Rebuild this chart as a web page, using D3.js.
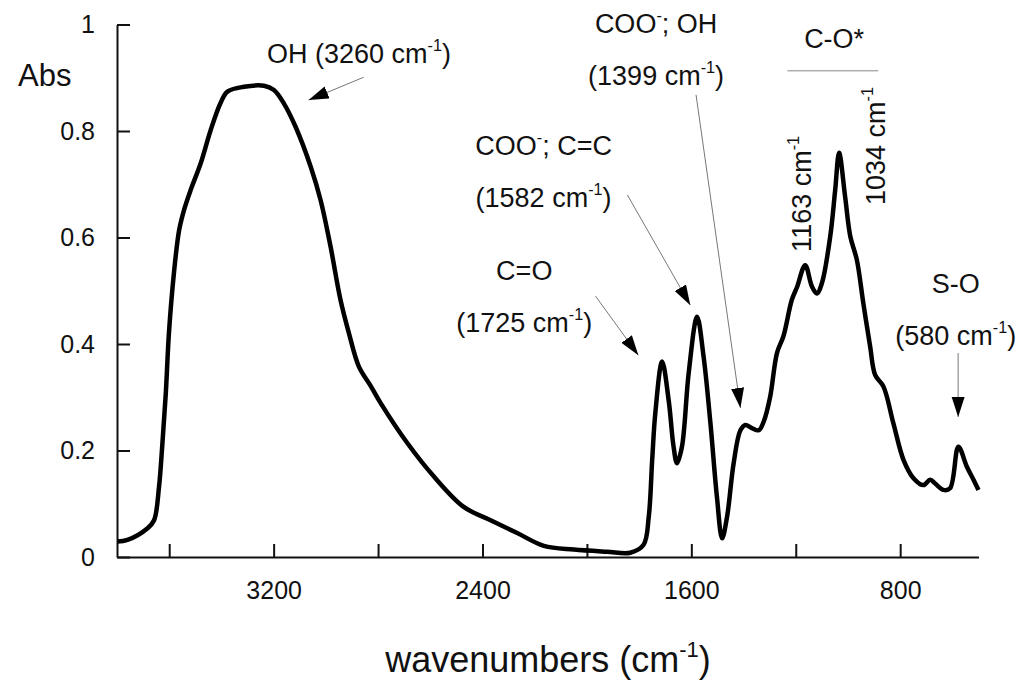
<!DOCTYPE html>
<html>
<head>
<meta charset="utf-8">
<script src="https://cdn.jsdelivr.net/npm/d3@7"></script>
<style>
  body { margin: 0; background: #fff; }
  text { font-family: "Liberation Sans", Arial, sans-serif; fill: #111; }
</style>
</head>
<body>
<div id="chart"></div>
<script>
// spectrum (wavenumber in cm-1, absorbance)
var wavenumbers = [3798,3760,3683,3658,3639,3626,3613,3601,3582,3562,3543,3518,3479,3441,3403,3377,3314,3237,3199,3161,
  3116,3058,3020,2982,2944,2912,2873,2829,2790,2688,2586,2472,2369,2267,2165,2050,1923,1834,1783,1763,
  1750,1738,1712,1687,1668,1655,1636,1610,1578,1553,1527,1502,1482,1463,1438,1412,1393,1368,1342,1323,
  1298,1272,1247,1215,1195,1164,1138,1119,1100,1068,1049,1034,1011,991,966,941,915,896,864,826,
  787,749,711,685,666,634,609,577,545,519,500];
var absorbance = [0.029,0.032,0.054,0.069,0.132,0.214,0.308,0.421,0.533,0.614,0.652,0.689,0.740,0.802,0.853,0.874,0.883,0.885,0.877,0.852,
  0.808,0.733,0.670,0.583,0.483,0.421,0.357,0.322,0.289,0.214,0.151,0.094,0.069,0.045,0.021,0.014,0.010,0.008,0.023,0.076,
  0.182,0.270,0.367,0.295,0.207,0.176,0.207,0.346,0.451,0.376,0.252,0.113,0.035,0.076,0.176,0.238,0.248,0.242,0.238,0.254,
  0.301,0.383,0.415,0.483,0.507,0.548,0.508,0.495,0.514,0.602,0.689,0.759,0.677,0.602,0.558,0.476,0.395,0.342,0.320,0.251,
  0.182,0.148,0.135,0.145,0.138,0.126,0.129,0.207,0.170,0.145,0.126];

var x_domain = [3800, 500];
var x_ticks = [3600, 3200, 2800, 2400, 2000, 1600, 1200, 800];
var x_labels = ['', '3200', '', '2400', '', '1600', '', '800'];
var y_ticks = [0, 0.2, 0.4, 0.6, 0.8, 1];
var y_labels = ['0', '0.2', '0.4', '0.6', '0.8', '1'];

// annotations: text lines [text, superscript, text], anchor point and arrow in data units
var notes = [
  { lines: [['OH (3260 cm', '-1', ')']], at: [2873, 0.928], arrow: [[2855, 0.901], [3066, 0.858]] },
  { lines: [['C=O', '', ''], ['(1725 cm', '-1', ')']], at: [2240, 0.520], arrow: [[1967, 0.490], [1803, 0.379]] },
  { lines: [['COO', '-', '; C=C'], ['(1582 cm', '-1', ')']], at: [2166, 0.755], arrow: [[1845, 0.680], [1604, 0.473]] },
  { lines: [['COO', '-', '; OH'], ['(1399 cm', '-1', ')']], at: [1735, 0.984], arrow: [[1582, 0.868], [1412, 0.280]] },
  { lines: [['S-O', '', ''], ['(580 cm', '-1', ')']], at: [587, 0.496], arrow: [[578, 0.383], [578, 0.263]] }
];
var rotated_notes = [
  { text: ['1163 cm', '-1', ''], at: [1141, 0.573] },
  { text: ['1034 cm', '-1', ''], at: [857, 0.661] }
];
var group_label = { text: 'C-O*', at: [1053, 0.956], bar: [1232, 884, 0.913] };

var chart_width = 1031;
var chart_height = 682;

var svg = d3.select('#chart')
  .append('svg')
  .attr('width', chart_width)
  .attr('height', chart_height);

//scales
var x_scale = d3.scaleLinear()
  .domain(x_domain)
  .range([117, 978.5]);

var y_scale = d3.scaleLinear()
  .domain([0, 1])
  .range([557, 24.5]);

//axes
var x_axis = d3.axisBottom(x_scale)
  .tickValues(x_ticks)
  .tickSizeInner(-13)
  .tickSizeOuter(0)
  .tickPadding(24)
  .tickFormat(function(d, i) { return x_labels[i]; });

var y_axis = d3.axisLeft(y_scale)
  .tickValues(y_ticks)
  .tickSizeInner(-13)
  .tickSizeOuter(0)
  .tickPadding(22)
  .tickFormat(function(d, i) { return y_labels[i]; });

var gx = svg.append('g')
  .attr('transform', 'translate(0,' + y_scale(0) + ')')
  .call(x_axis);

var gy = svg.append('g')
  .attr('transform', 'translate(' + x_scale(x_domain[0]) + ',0)')
  .call(y_axis);

[gx, gy].forEach(function(g) {
  g.selectAll('path, line').attr('stroke', '#111').attr('stroke-width', 2);
  g.selectAll('text')
    .attr('font-size', 25)
    .attr('font-family', '"Liberation Sans", Arial, sans-serif')
    .attr('fill', '#111');
});

//axis titles
svg.append('text')
  .attr('x', 18)
  .attr('y', 86)
  .attr('font-size', 31)
  .text('Abs');

var xt = svg.append('text')
  .attr('x', 548)
  .attr('y', 672)
  .attr('text-anchor', 'middle')
  .attr('font-size', 36);
xt.append('tspan').text('wavenumbers (cm');
xt.append('tspan').attr('font-size', 22).attr('dy', -15).text('-1');
xt.append('tspan').attr('dy', 15).text(')');

//spectrum
var line = d3.line()
  .x(function(d) { return x_scale(d[0]); })
  .y(function(d) { return y_scale(d[1]); })
  .curve(d3.curveCatmullRom.alpha(0.5));

svg.append('path')
  .datum(d3.zip(wavenumbers, absorbance))
  .attr('d', line)
  .attr('fill', 'none')
  .attr('stroke', '#000')
  .attr('stroke-width', 4.5)
  .attr('stroke-linejoin', 'round');

//arrowhead
svg.append('defs').append('marker')
  .attr('id', 'head')
  .attr('markerUnits', 'userSpaceOnUse')
  .attr('markerWidth', 22)
  .attr('markerHeight', 14)
  .attr('refX', 20)
  .attr('refY', 6.5)
  .attr('orient', 'auto')
  .append('path')
  .attr('d', 'M0,0 L20,6.5 L0,13 Z')
  .attr('fill', '#000');

function write_parts(sel, parts, size) {
  sel.append('tspan').text(parts[0]);
  if (parts[1]) {
    sel.append('tspan').attr('font-size', size * 0.6).attr('dy', -size * 0.45).text(parts[1]);
    sel.append('tspan').attr('dy', size * 0.45).text(parts[2]);
  } else if (parts[2]) {
    sel.append('tspan').text(parts[2]);
  }
}

var note_size = 27;

notes.forEach(function(n) {
  n.lines.forEach(function(parts, i) {
    var t = svg.append('text')
      .attr('x', x_scale(n.at[0]))
      .attr('y', y_scale(n.at[1]) + i * 52)
      .attr('text-anchor', 'middle')
      .attr('font-size', note_size);
    write_parts(t, parts, note_size);
  });
  svg.append('line')
    .attr('x1', x_scale(n.arrow[0][0]))
    .attr('y1', y_scale(n.arrow[0][1]))
    .attr('x2', x_scale(n.arrow[1][0]))
    .attr('y2', y_scale(n.arrow[1][1]))
    .attr('stroke', '#777')
    .attr('stroke-width', 1)
    .attr('marker-end', 'url(#head)');
});

rotated_notes.forEach(function(n) {
  var t = svg.append('text')
    .attr('transform', 'translate(' + x_scale(n.at[0]) + ',' + y_scale(n.at[1]) + ') rotate(-90)')
    .attr('font-size', note_size);
  write_parts(t, n.text, note_size);
});

svg.append('text')
  .attr('x', x_scale(group_label.at[0]))
  .attr('y', y_scale(group_label.at[1]))
  .attr('text-anchor', 'middle')
  .attr('font-size', note_size)
  .text(group_label.text);

svg.append('line')
  .attr('x1', x_scale(group_label.bar[0]))
  .attr('x2', x_scale(group_label.bar[1]))
  .attr('y1', y_scale(group_label.bar[2]))
  .attr('y2', y_scale(group_label.bar[2]))
  .attr('stroke', '#888')
  .attr('stroke-width', 1);
</script>
</body>
</html>
